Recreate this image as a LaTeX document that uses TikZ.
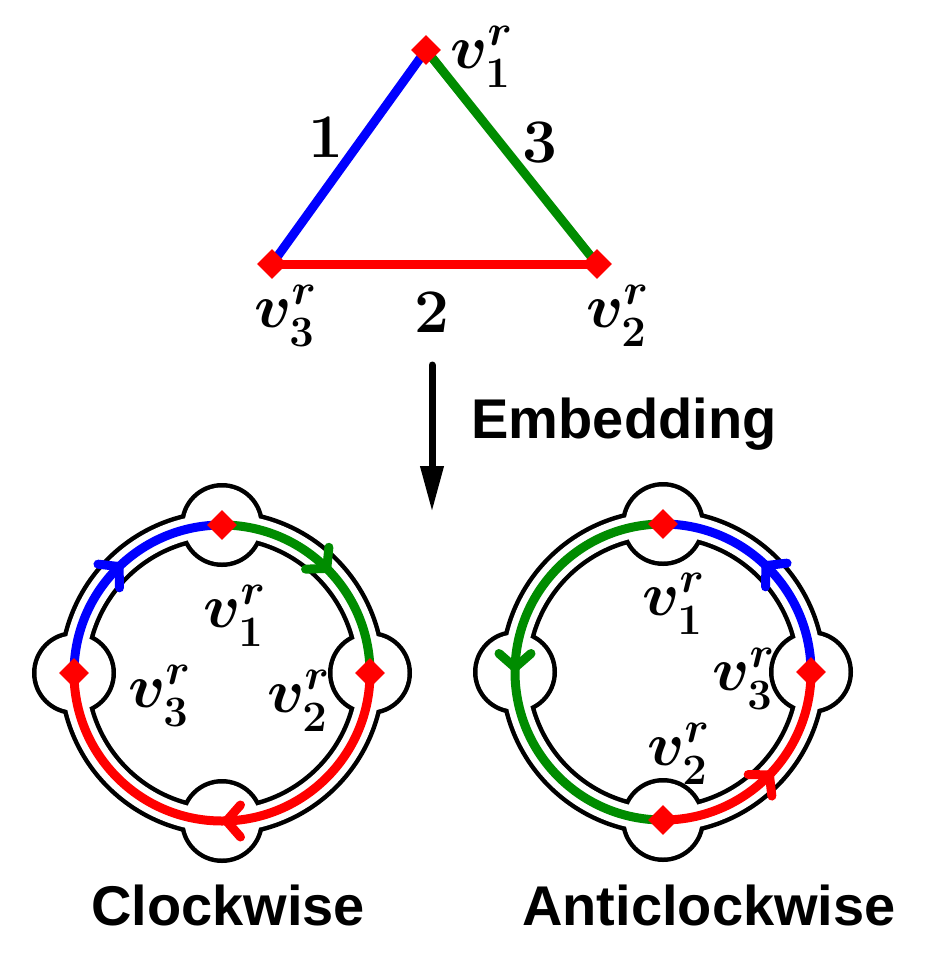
\RequirePackage{fix-cm}
\documentclass[tikz,border=0pt]{standalone}
\usepackage{fontspec}
\newfontfamily\sfb{Liberation Sans}
\usetikzlibrary{arrows.meta,decorations.markings,shapes.geometric,calc}
\definecolor{egreen}{RGB}{0,140,0}
\definecolor{ered}{RGB}{255,0,0}
\definecolor{eblue}{RGB}{0,0,255}
\tikzset{
 vtx/.style={diamond, fill=ered, inner sep=0pt, minimum size=30pt, aspect=1},
 edgeline/.style={line width=9pt},
 arcline/.style={line width=9pt},
 ringline/.style={line width=9pt},
 lab/.style={inner sep=0pt, anchor=base west, font=\fontsize{62}{62}\selectfont\boldmath},
 num/.style={inner sep=0pt, anchor=base, font=\fontsize{62}{62}\selectfont\bfseries},
 capt/.style={inner sep=0pt, anchor=base, font=\fontsize{56}{60}\selectfont\sfb\bfseries},
 barb/.style={decoration={markings, mark=at position #1 with {\arrow{Straight Barb[length=14pt,width=32pt,round]}}}, postaction={decorate}},
}
\newcommand\ringat[1]{%
  \draw[ringline] (#1) circle (159pt);
  \draw[ringline] (#1) circle (137pt);
  \foreach \a in {0,90,180,270} \draw[ringline] ($(#1)+(\a:148pt)$) circle (37.5pt);
  \fill[white, even odd rule] (#1) circle (159pt) (#1) circle (137pt);
  \foreach \a in {0,90,180,270} \fill[white] ($(#1)+(\a:148pt)$) circle (37.5pt);
}
\begin{document}
\begin{tikzpicture}[x=1pt,y=1pt]
\useasboundingbox (0,0) rectangle (950,-953);
% ---------- triangle ----------
\coordinate (t1) at (426,-50);
\coordinate (t2) at (597,-264);
\coordinate (t3) at (272,-264);
\draw[edgeline, eblue] (t3) -- (t1);
\draw[edgeline, egreen] (t1) -- (t2);
\draw[edgeline, ered] (t3) -- (t2);
\node[vtx] (d1) at (t1) {};
\node[vtx] (d2) at (t2) {};
\node[vtx] (d3) at (t3) {};
\node[lab] (tl1) at (450,-68) {$v_1^r$};
\node[lab] (tl3) at (254,-327) {$v_3^r$};
\node[lab] (tl2) at (586,-327) {$v_2^r$};
\node[num] (n1) at (326,-157) {1};
\node[num] (n3) at (540,-162) {3};
\node[num] (n2) at (432,-332) {2};
% ---------- embedding arrow ----------
\coordinate (ast) at (432,-365);
\coordinate (aen) at (432,-512);
\draw[line width=7pt, line cap=round, -{Triangle[length=46pt,width=22pt]}] (ast) -- (aen);
\node[capt] (emb) at (624,-438) {Embedding};
% ---------- left ring (clockwise) ----------
\coordinate (L) at (222,-673);
\ringat{L}
\coordinate (L1) at ($(L)+(90:148pt)$);
\coordinate (L2) at ($(L)+(0:148pt)$);
\coordinate (L3) at ($(L)+(180:148pt)$);
\draw[arcline, eblue, barb=0.53] (L3) arc[start angle=180, end angle=90, radius=148pt];
\draw[arcline, egreen, barb=0.52] (L1) arc[start angle=90, end angle=0, radius=148pt];
\draw[arcline, ered, barb=0.5] (L2) arc[start angle=0, end angle=-180, radius=148pt];
\node[vtx] (ld1) at (L1) {};
\node[vtx] (ld2) at (L2) {};
\node[vtx] (ld3) at (L3) {};
\node[lab] (ll1) at (203,-627) {$v_1^r$};
\node[lab] (ll3) at (128,-707) {$v_3^r$};
\node[lab] (ll2) at (267,-712) {$v_2^r$};
\node[capt] (cw) at (228,-925) {Clockwise};
% ---------- right ring (anticlockwise) ----------
\coordinate (R) at (663,-672);
\ringat{R}
\coordinate (R1) at ($(R)+(90:148pt)$);
\coordinate (R3) at ($(R)+(0:148pt)$);
\coordinate (R2) at ($(R)+(270:148pt)$);
\draw[arcline, eblue, barb=0.53] (R3) arc[start angle=0, end angle=90, radius=148pt];
\draw[arcline, ered, barb=0.53] (R2) arc[start angle=-90, end angle=0, radius=148pt];
\draw[arcline, egreen, barb=0.5] (R1) arc[start angle=90, end angle=270, radius=148pt];
\node[vtx] (rd1) at (R1) {};
\node[vtx] (rd3) at (R3) {};
\node[vtx] (rd2) at (R2) {};
\node[lab] (rl1) at (642,-615) {$v_1^r$};
\node[lab] (rl3) at (712,-690) {$v_3^r$};
\node[lab] (rl2) at (647,-765) {$v_2^r$};
\node[capt] (acw) at (709,-925) {Anticlockwise};
\end{tikzpicture}
\end{document}
